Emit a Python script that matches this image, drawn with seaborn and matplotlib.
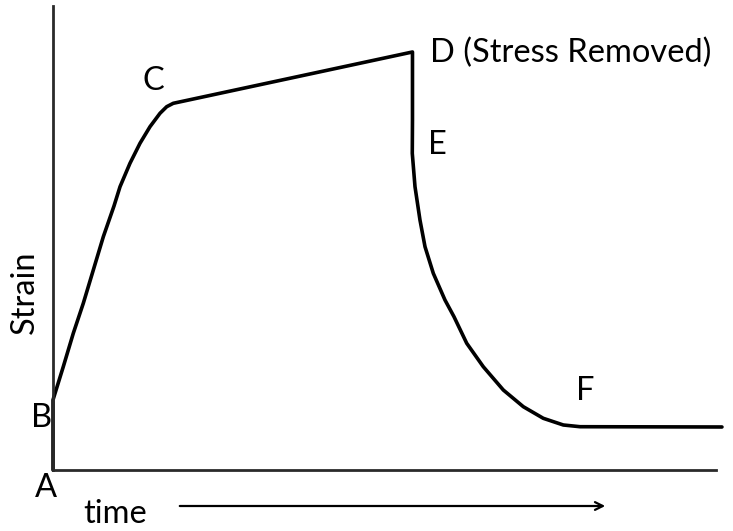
import matplotlib
matplotlib.use("Agg")
import matplotlib.pyplot as plt
import seaborn as sns
import pandas as pd

# Curve data (time, strain) in arbitrary units 0..100
time = [0.0, 0.0, 0.15, 1.55, 3.06, 4.57, 6.08, 7.59, 9.20, 10.11, 11.61,
        13.12, 14.63, 16.14, 17.15, 18.14,
        54.22, 54.22, 54.19, 54.60, 55.35, 56.11, 57.36, 59.12, 60.48, 62.40,
        64.90, 67.92, 70.94, 73.95, 76.97, 79.49, 100.9]
strain = [0.0, 15.09, 15.80, 22.26, 29.46, 35.93, 43.10, 50.28, 56.90, 61.06, 66.10,
          70.41, 73.99, 76.88, 78.30, 79.03,
          90.09, 75.43, 68.25, 61.06, 53.88, 48.12, 42.39, 36.64, 33.04, 27.31,
          22.26, 17.24, 13.64, 11.14, 9.70, 9.33, 9.27]
point_labels = ["A", "B", "C", "D (Stress Removed)", "E", "F"]
label_px = [(46, 488), (42, 418), (153, 81), (430, 53), (437, 145), (585, 391)]
label_ha = ["center", "center", "center", "left", "center", "center"]

df = pd.DataFrame({"time": time, "strain": strain})

sns.set_style("white")
plt.rcParams["font.family"] = ["Lato", "DejaVu Sans"]

W, H = 733, 531
fig = plt.figure(figsize=(W / 100, H / 100), dpi=100)
ax = fig.add_axes([53 / W, (H - 470) / H, (716 - 53) / W, (470 - 6) / H])

sns.lineplot(data=df, x="time", y="strain", sort=False, estimator=None,
             color="black", lw=2.6, ax=ax, clip_on=False)
ax.lines[-1].set_solid_joinstyle("round")

ax.set_xlim(0, 100)
ax.set_ylim(0, 100)
ax.set_xticks([])
ax.set_yticks([])
ax.set_xlabel("")
ax.set_ylabel("")
for s in ["top", "right"]:
    ax.spines[s].set_visible(False)
for s in ["left", "bottom"]:
    ax.spines[s].set_color("#2a2a2a")
    ax.spines[s].set_linewidth(2.0)

fs = 23.5
for lab, (px, py), ha in zip(point_labels, label_px, label_ha):
    fig.text(px / W, 1 - py / H, lab, ha=ha, va="center", fontsize=fs, color="black")

fig.text(25 / W, 1 - 292 / H, "Strain", rotation=90, ha="center", va="center",
         fontsize=fs, color="black")
fig.text(115 / W, 1 - 514 / H, "time", ha="center", va="center",
         fontsize=fs, color="black")

fig.add_artist(matplotlib.patches.FancyArrowPatch(
    (177 / W, 1 - 506 / H), (608 / W, 1 - 506 / H), transform=fig.transFigure,
    arrowstyle="->", mutation_scale=14, color="black", lw=1.6))

fig.savefig("out.png", dpi=100)
